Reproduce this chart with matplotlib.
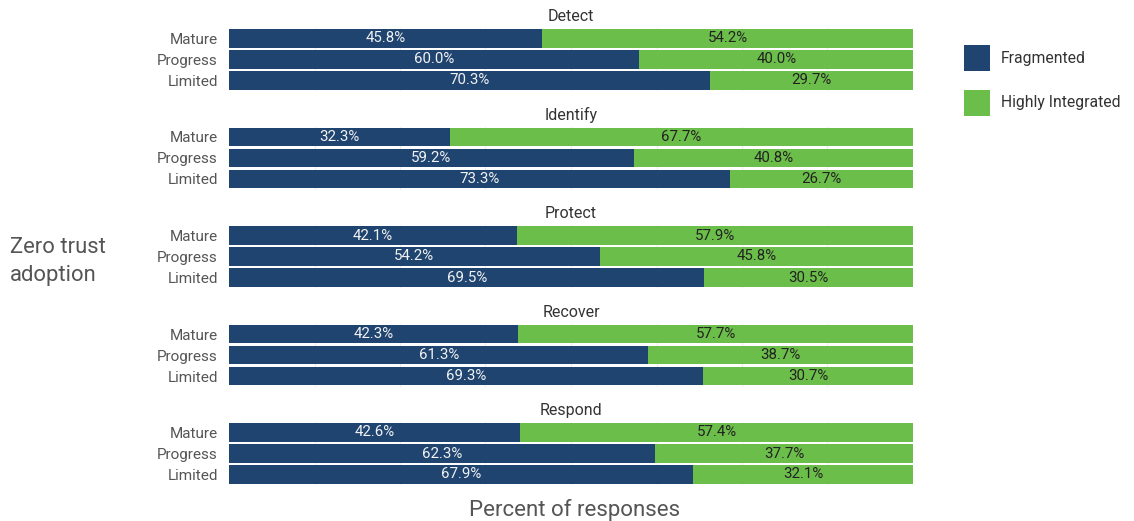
import matplotlib
matplotlib.use("Agg")
import matplotlib.pyplot as plt
from matplotlib.patches import Rectangle

plt.rcParams['font.family'] = ['Roboto', 'DejaVu Sans']

panels = ["Detect", "Identify", "Protect", "Recover", "Respond"]
levels = ["Mature", "Progress", "Limited"]
fragmented = [
    [45.8, 60.0, 70.3],
    [32.3, 59.2, 73.3],
    [42.1, 54.2, 69.5],
    [42.3, 61.3, 69.3],
    [42.6, 62.3, 67.9],
]
integrated = [
    [54.2, 40.0, 29.7],
    [67.7, 40.8, 26.7],
    [57.9, 45.8, 30.5],
    [57.7, 38.7, 30.7],
    [57.4, 37.7, 32.1],
]
series_names = ["Fragmented", "Highly Integrated"]
BLUE = "#1F4470"
GREEN = "#6CBE4A"
GRAY = "#555555"

W, H = 1134, 521
fig = plt.figure(figsize=(W / 100, H / 100), dpi=100)

x0, x1 = 229, 913
for i, name in enumerate(panels):
    top = 28 + 98.5 * i
    bot = 91 + 98.5 * i
    ax = fig.add_axes([x0 / W, 1 - bot / H, (x1 - x0) / W, (bot - top) / H])
    y = list(range(len(levels)))
    f = fragmented[i]
    g = integrated[i]
    ax.barh(y, f, height=0.9, color=BLUE, zorder=2)
    ax.barh(y, g, left=f, height=0.9, color=GREEN, zorder=2)
    for yy, fv, gv in zip(y, f, g):
        ax.text(fv / 2, yy, f"{fv:.1f}%", color="#F2F2F2", ha="center", va="center", fontsize=10.8)
        ax.text(fv + gv / 2, yy, f"{gv:.1f}%", color="#222222", ha="center", va="center", fontsize=10.8)
    ax.set_xlim(0, 100)
    ax.set_ylim(2.5, -0.5)
    ax.set_yticks(y)
    ax.set_yticklabels(levels, fontsize=11, color=GRAY)
    ax.tick_params(axis='y', length=0, pad=8)
    ax.set_xticks([12.5 * k for k in range(1, 8)])
    ax.tick_params(axis='x', length=0, labelbottom=False)
    ax.grid(axis='x', color="#EEEEEE", linewidth=0.8, zorder=0)
    for s in ax.spines.values():
        s.set_visible(False)
    ax.set_title(name, fontsize=11.5, color="#333333", pad=5)

fig.text(10 / W, 1 - 247 / H, "Zero trust", fontsize=15.8, color=GRAY, ha="left", va="center")
fig.text(10 / W, 1 - 276 / H, "adoption", fontsize=15.8, color=GRAY, ha="left", va="center")
fig.text(575 / W, 1 - 510 / H, "Percent of responses", fontsize=16, color=GRAY, ha="center", va="center")

for j, (nm, col) in enumerate(zip(series_names, [BLUE, GREEN])):
    ytop = 45 + 45 * j
    fig.patches.append(Rectangle((964 / W, 1 - (ytop + 26) / H), 26 / W, 26 / H,
                                 transform=fig.transFigure, facecolor=col, edgecolor='none'))
    fig.text(1001 / W, 1 - (ytop + 13) / H, nm, fontsize=11.3, color="#333333", ha="left", va="center")

fig.savefig("out.png", dpi=100)
